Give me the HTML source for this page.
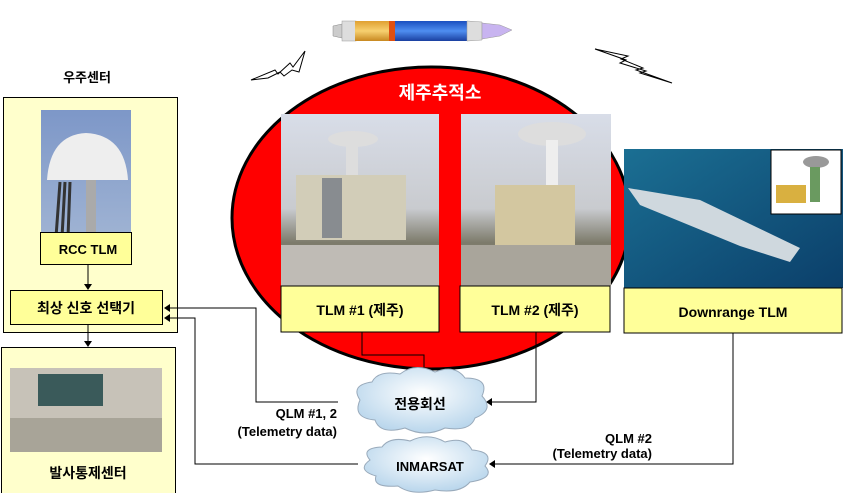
<!DOCTYPE html>
<html><head><meta charset="utf-8"><style>
html,body{margin:0;padding:0;background:#fff;width:843px;height:493px;overflow:hidden}
svg text{font-family:"Liberation Sans","Noto Sans CJK KR",sans-serif;font-weight:bold}
</style></head><body>
<svg width="843" height="493" viewBox="0 0 843 493" xmlns="http://www.w3.org/2000/svg">
<defs>
<linearGradient id="sky" x1="0" y1="0" x2="0" y2="1"><stop offset="0" stop-color="#d8dde8"/><stop offset="0.55" stop-color="#c9cbcf"/><stop offset="0.75" stop-color="#7c7a6a"/><stop offset="1" stop-color="#bdbab2"/></linearGradient>
<linearGradient id="sea" x1="0" y1="0" x2="1" y2="1"><stop offset="0" stop-color="#1b6f93"/><stop offset="1" stop-color="#0b3f6a"/></linearGradient>
<linearGradient id="dome" x1="0" y1="0" x2="0" y2="1"><stop offset="0" stop-color="#7d97c8"/><stop offset="1" stop-color="#9fb3d3"/></linearGradient>
<radialGradient id="cloud" cx="0.5" cy="0.4" r="0.6"><stop offset="0" stop-color="#ffffff"/><stop offset="1" stop-color="#b9d6ec"/></radialGradient>
<linearGradient id="gold" x1="0" y1="0" x2="0" y2="1"><stop offset="0" stop-color="#e0a030"/><stop offset="0.5" stop-color="#f7d070"/><stop offset="1" stop-color="#c88820"/></linearGradient>
<linearGradient id="blue" x1="0" y1="0" x2="0" y2="1"><stop offset="0" stop-color="#1a4fc0"/><stop offset="0.5" stop-color="#4f8ef0"/><stop offset="1" stop-color="#1a3fa0"/></linearGradient>
</defs>

<!-- rocket -->
<path d="M333 26 L342 24 L342 38 L333 36 Z" fill="#ccc" stroke="#888" stroke-width="0.5"/>
<rect x="342" y="21" width="14" height="20" fill="#ddd" stroke="#999" stroke-width="0.5"/>
<rect x="355" y="21" width="35" height="20" fill="url(#gold)"/>
<rect x="389" y="21" width="6" height="20" fill="#e05010"/>
<rect x="395" y="21" width="72" height="20" fill="url(#blue)"/>
<path d="M467 21 L482 22 L482 40 L467 41 Z" fill="#ddd" stroke="#999" stroke-width="0.5"/>
<path d="M482 23 L500 25 L512 30 L500 36 L482 39 Z" fill="#c8b4f0" stroke="#999" stroke-width="0.5"/>

<!-- lightning -->
<path d="M251 80 L275 70 L278 74 L290 63 L293 67 L305 51 L299 72 L292 70 L284 76 L280 72 L268 78 Z" fill="#fff" stroke="#000" stroke-width="1"/>
<path d="M595 49 L628 56 L621 59 L643 68 L636 70 L672 83 L640 73 L646 71 L620 63 L626 60 Z" fill="#fff" stroke="#000" stroke-width="1"/>

<!-- ellipse -->
<ellipse cx="431" cy="218" rx="199" ry="151" fill="#ff0000" stroke="#000" stroke-width="3"/>
<text x="440" y="99" font-size="18" fill="#fff" text-anchor="middle">제주추적소</text>

<!-- TLM1 -->
<rect x="281" y="114" width="158" height="172" fill="url(#sky)"/>
<rect x="296" y="175" width="110" height="65" fill="#d2cdb8"/>
<rect x="322" y="178" width="20" height="60" fill="#888c90"/>
<ellipse cx="353" cy="139" rx="25" ry="8" fill="#ddd"/>
<rect x="346" y="145" width="12" height="30" fill="#ddd"/>
<rect x="281" y="245" width="158" height="41" fill="#bfbbb5"/>
<rect x="281" y="286" width="158" height="46" fill="#ffff99" stroke="#000" stroke-width="1"/>
<text x="360" y="315" font-size="14" text-anchor="middle">TLM #1 (제주)</text>

<!-- TLM2 -->
<rect x="461" y="114" width="150" height="172" fill="url(#sky)"/>
<rect x="495" y="185" width="80" height="62" fill="#d3c7a0"/>
<ellipse cx="552" cy="134" rx="34" ry="12" fill="#ddd"/>
<rect x="546" y="140" width="12" height="45" fill="#eee"/>
<rect x="461" y="245" width="150" height="41" fill="#a9a59b"/>
<rect x="460" y="286" width="150" height="46" fill="#ffff99" stroke="#000" stroke-width="1"/>
<text x="535" y="315" font-size="14" text-anchor="middle">TLM #2 (제주)</text>

<!-- Downrange -->
<rect x="624" y="149" width="219" height="139" fill="url(#sea)"/>
<path d="M628 188 L700 200 L800 248 L790 262 L740 246 L640 205 Z" fill="#cfd8de"/>
<rect x="771" y="150" width="70" height="64" fill="#fff" stroke="#000" stroke-width="1"/>
<ellipse cx="816" cy="162" rx="13" ry="6" fill="#999"/>
<rect x="810" y="167" width="10" height="35" fill="#6a9a60"/>
<rect x="776" y="185" width="30" height="18" fill="#d9b040"/>
<rect x="624" y="288" width="218" height="45" fill="#ffff99" stroke="#000" stroke-width="1"/>
<text x="733" y="317" font-size="14" text-anchor="middle">Downrange TLM</text>

<!-- 우주센터 -->
<text x="87" y="82" font-size="13" text-anchor="middle">우주센터</text>
<rect x="3.5" y="97.5" width="174" height="235" fill="#ffffcc" stroke="#000" stroke-width="1"/>
<rect x="41" y="110" width="90" height="127" fill="url(#dome)"/>
<path d="M47 180 Q50 135 86 133 Q125 135 128 180 Z" fill="#eeeeee"/>
<rect x="86" y="180" width="10" height="57" fill="#aaa"/>
<path d="M60 182 L56 237 M65 182 L62 237 M70 182 L68 237" stroke="#333" stroke-width="3"/>
<rect x="40.5" y="232.5" width="91" height="32" fill="#ffff99" stroke="#000" stroke-width="1"/>
<text x="88" y="254" font-size="13" text-anchor="middle">RCC TLM</text>
<rect x="10.5" y="290.5" width="152" height="34" fill="#ffff99" stroke="#000" stroke-width="1"/>
<text x="86" y="313" font-size="14" text-anchor="middle">최상 신호 선택기</text>

<rect x="1.5" y="347.5" width="174" height="146" fill="#ffffcc" stroke="#000" stroke-width="1"/>
<rect x="10" y="368" width="152" height="84" fill="#c7c2b8"/>
<rect x="38" y="374" width="65" height="32" fill="#3a5a5a"/>
<rect x="10" y="418" width="152" height="34" fill="#a8a498"/>
<text x="88" y="478" font-size="14" text-anchor="middle">발사통제센터</text>

<!-- arrows -->
<g stroke="#000" stroke-width="1" fill="none">
<line x1="88" y1="265" x2="88" y2="284"/>
<line x1="88" y1="325" x2="88" y2="341"/>
<polyline points="362,332 362,355 424,355 424,368"/>
<polyline points="536,332 536,402 492,402"/>
<polyline points="733,333 733,464 495,464"/>
<polyline points="338,402 256,402 256,308 170,308"/>
<polyline points="358,464 195,464 195,318 170,318"/>
</g>
<g fill="#000">
<path d="M84 284 L92 284 L88 290 Z"/>
<path d="M84 341 L92 341 L88 347 Z"/>
<path d="M420 368 L428 368 L424 374 Z"/>
<path d="M492 398 L492 406 L486 402 Z"/>
<path d="M495 460 L495 468 L489 464 Z"/>
<path d="M170 304 L170 312 L164 308 Z"/>
<path d="M170 314 L170 322 L164 318 Z"/>
</g>

<!-- clouds -->
<g fill="url(#cloud)" stroke="#9ab" stroke-width="1">
<path d="M360 400 Q350 385 372 382 Q378 370 400 374 Q415 362 435 372 Q455 364 465 378 Q490 378 482 396 Q495 410 475 418 Q470 432 445 428 Q425 438 405 428 Q380 435 375 420 Q352 418 360 400 Z"/>
<path d="M370 460 Q360 448 382 447 Q390 436 410 441 Q428 432 445 442 Q465 436 472 450 Q495 452 485 466 Q496 478 470 482 Q460 494 435 490 Q412 496 398 486 Q372 488 376 476 Q356 470 370 460 Z"/>
</g>
<text x="420" y="409" font-size="14" text-anchor="middle">전용회선</text>
<text x="430" y="471" font-size="13" text-anchor="middle">INMARSAT</text>

<!-- labels -->
<text x="337" y="418" font-size="13" text-anchor="end">QLM #1, 2</text>
<text x="337" y="436" font-size="13" text-anchor="end">(Telemetry data)</text>
<text x="652" y="443" font-size="13" text-anchor="end">QLM  #2</text>
<text x="652" y="458" font-size="13" text-anchor="end">(Telemetry data)</text>
</svg>
</body></html>
